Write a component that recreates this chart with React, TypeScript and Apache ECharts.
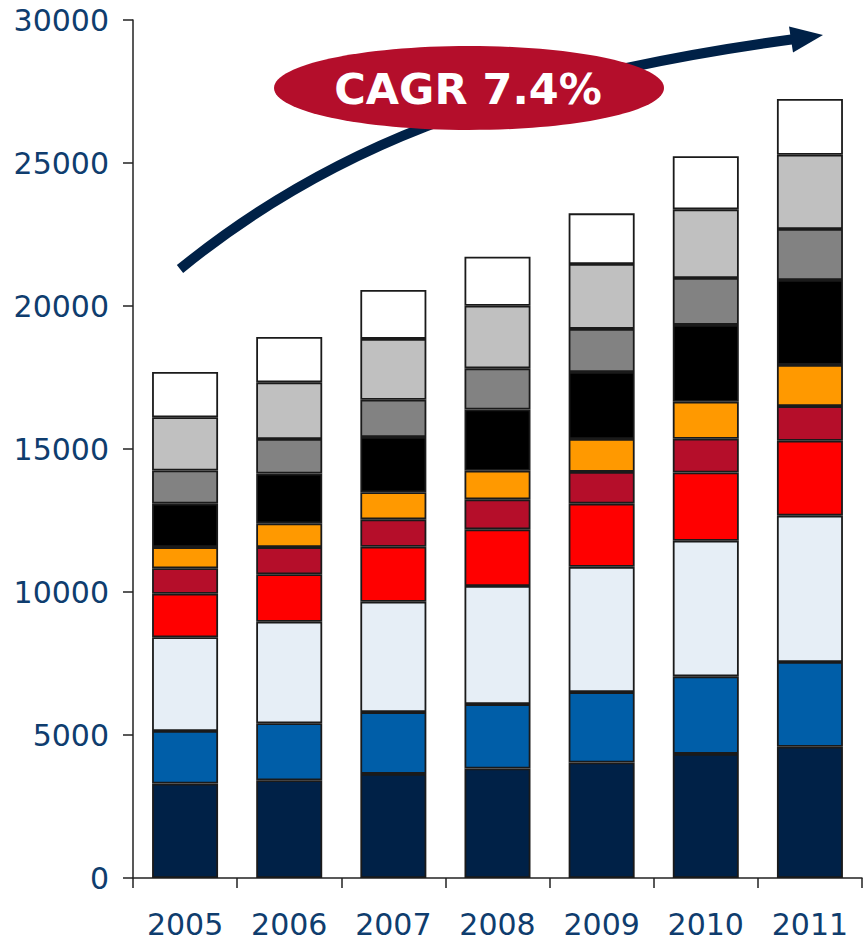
import React, { useEffect, useRef } from "react";
import * as echarts from "echarts";

const years = ["2005", "2006", "2007", "2008", "2009", "2010", "2011"];
const seg1 = [3300, 3420, 3640, 3830, 4040, 4340, 4590];
const seg2 = [1840, 1990, 2160, 2250, 2460, 2710, 2960];
const seg3 = [3280, 3550, 3860, 4130, 4380, 4740, 5120];
const seg4 = [1520, 1660, 1920, 1980, 2210, 2390, 2620];
const seg5 = [890, 950, 960, 1050, 1110, 1180, 1210];
const seg6 = [740, 830, 950, 1000, 1150, 1290, 1440];
const seg7 = [1520, 1740, 1930, 2140, 2340, 2690, 2970];
const seg8 = [1160, 1210, 1300, 1440, 1510, 1640, 1780];
const seg9 = [1860, 1980, 2130, 2190, 2270, 2400, 2600];
const seg10 = [1580, 1590, 1710, 1710, 1770, 1860, 1950];
const cagrLabel = "CAGR 7.4%";

const segments = [seg1, seg2, seg3, seg4, seg5, seg6, seg7, seg8, seg9, seg10];
const colors = [
  "#002147",
  "#005ea8",
  "#e6eef6",
  "#ff0000",
  "#b50e2a",
  "#ff9900",
  "#000000",
  "#828282",
  "#c0c0c0",
  "#ffffff",
];

export default function App() {
  const ref = useRef<HTMLDivElement>(null);
  useEffect(() => {
    if (!ref.current) return;
    const chart = echarts.init(ref.current, undefined, { renderer: "svg" });
    const labelColor = "#0f3d6e";
    const font = "DejaVu Sans";
    chart.setOption({
      animation: false,
      backgroundColor: "#ffffff",
      grid: { left: 133, right: 3, top: 20, bottom: 64, containLabel: false },
      xAxis: {
        type: "category",
        data: years,
        axisLine: { show: true, lineStyle: { color: "#222", width: 1.5 } },
        axisTick: { show: true, length: 10, lineStyle: { color: "#222", width: 1.5 } },
        axisLabel: { color: labelColor, fontSize: 30, fontFamily: font, margin: 31 },
        splitLine: { show: false },
      },
      yAxis: {
        type: "value",
        min: 0,
        max: 30000,
        interval: 5000,
        axisLine: { show: true, lineStyle: { color: "#222", width: 1.5 } },
        axisTick: { show: true, length: 10, lineStyle: { color: "#222", width: 1.5 } },
        axisLabel: {
          color: labelColor,
          fontSize: 30,
          fontFamily: font,
          margin: 24,
          formatter: (v: number) => String(v),
        },
        splitLine: { show: false },
      },
      series: segments.map((d, i) => ({
        name: "Segment " + (i + 1),
        type: "bar",
        stack: "total",
        data: d,
        barWidth: 66,
        itemStyle: { color: colors[i], borderColor: "#1a1a1a", borderWidth: 1.8 },
      })),
      graphic: [
        {
          type: "bezierCurve",
          shape: { x1: 180, y1: 269, cpx1: 320, cpy1: 155, cpx2: 490, cpy2: 80, x2: 795, y2: 39 },
          style: { stroke: "#002147", lineWidth: 10, fill: null },
          z: 10,
        },
        {
          type: "polygon",
          shape: { points: [[823, 35], [789, 26.5], [793, 52.5]] },
          style: { fill: "#002147" },
          z: 10,
        },
        {
          type: "ellipse",
          shape: { cx: 469, cy: 88, rx: 195, ry: 42 },
          style: { fill: "#b40e2b" },
          z: 11,
        },
        {
          type: "text",
          x: 468,
          y: 89,
          style: {
            text: cagrLabel,
            fill: "#ffffff",
            font: "bold 43px 'DejaVu Sans'",
            align: "center",
            verticalAlign: "middle",
          },
          z: 12,
        },
      ],
    });
    return () => chart.dispose();
  }, []);
  return (
    <div
      ref={ref}
      style={{ position: "absolute", left: 0, top: 0, width: 865, height: 942 }}
    />
  );
}
